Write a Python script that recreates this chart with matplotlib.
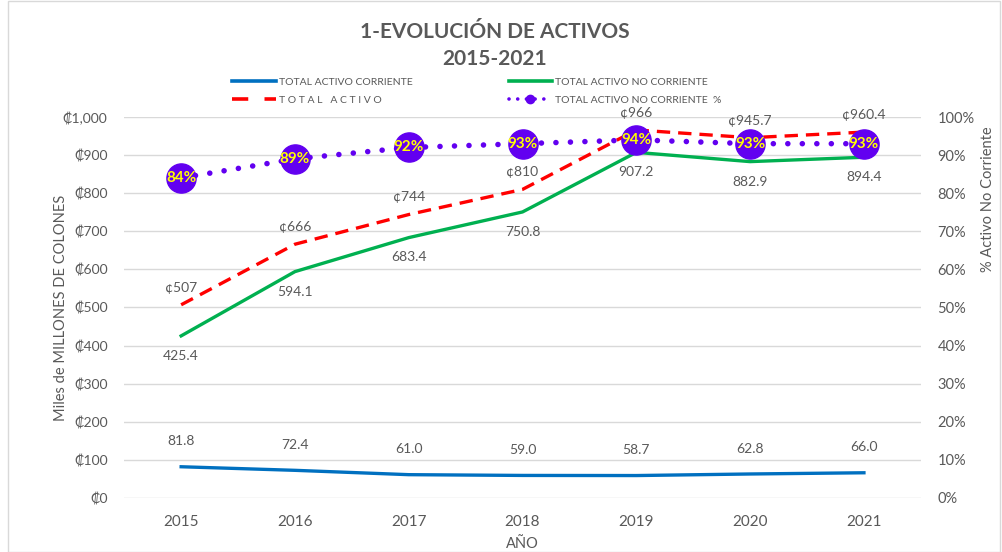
import matplotlib
matplotlib.use("Agg")
import matplotlib.pyplot as plt
from matplotlib.lines import Line2D
from matplotlib.patches import Rectangle
from matplotlib.ticker import FuncFormatter, MultipleLocator

plt.rcParams['font.family'] = ['Lato', 'DejaVu Sans']

years = ['2015', '2016', '2017', '2018', '2019', '2020', '2021']
corriente = [81.8, 72.4, 61.0, 59.0, 58.7, 62.8, 66.0]
no_corriente = [425.4, 594.1, 683.4, 750.8, 907.2, 882.9, 894.4]
total = [507, 666, 744, 810, 966, 945.7, 960.4]
total_lbl = ['¢507', '¢666', '¢744', '¢810', '¢966', '¢945.7', '¢960.4']
pct = [0.84, 0.89, 0.92, 0.93, 0.94, 0.93, 0.93]

GRAY = '#595959'
BLUE = '#0070C0'
GREEN = '#00B050'
RED = '#FF0000'
PURPLE = '#6200F0'

fig = plt.figure(figsize=(10.02, 5.52), dpi=100)
ax = fig.add_axes([0.124, 0.098, 0.795, 0.690])
x = range(len(years))

ax.plot(x, corriente, color=BLUE, lw=2.4, zorder=3)
ax.plot(x, no_corriente, color=GREEN, lw=2.4, zorder=3)
ax.plot(x, total, color=RED, lw=2.4, ls=(0, (4, 2.4)), zorder=3)

for i in x:
    ax.annotate(f'{corriente[i]:.1f}', (i, corriente[i]), xytext=(0, 14),
                textcoords='offset points', ha='center', va='bottom',
                fontsize=10, color=GRAY)
    ax.annotate(f'{no_corriente[i]:.1f}', (i, no_corriente[i]), xytext=(0, -10),
                textcoords='offset points', ha='center', va='top',
                fontsize=10, color=GRAY)
    ax.annotate(total_lbl[i], (i, total[i]), xytext=(0, 8),
                textcoords='offset points', ha='center', va='bottom',
                fontsize=10, color=GRAY)

ax.set_xlim(-0.5, len(years) - 0.5)
ax.set_ylim(0, 1000)
ax.yaxis.set_major_locator(MultipleLocator(100))
ax.yaxis.set_major_formatter(FuncFormatter(lambda v, p: f'₡{v:,.0f}'))
ax.set_xticks(list(x))
ax.set_xticklabels(years)
ax.grid(axis='y', color='#D9D9D9', lw=1)
ax.set_axisbelow(True)
for s in ax.spines.values():
    s.set_visible(False)
ax.tick_params(axis='both', length=0, colors=GRAY, labelsize=10)
ax.tick_params(axis='x', pad=12, labelsize=11)
ax.tick_params(axis='y', pad=12)
ax.set_xlabel('AÑO', color=GRAY, fontsize=10.5, labelpad=6)
ax.set_ylabel('Miles de MILLONES DE COLONES', color=GRAY, fontsize=10.5)
ax.yaxis.set_label_coords(-0.07, 0.5)

# percentage of non-current assets on the secondary axis
ax2 = ax.twinx()
ax2.plot(x, pct, color=PURPLE, lw=4, ls=(0, (0.01, 2.6)),
         dash_capstyle='round', marker='o', markersize=21, zorder=4)
for i in x:
    ax2.text(i, pct[i], f'{pct[i]:.0%}', ha='center', va='center',
             fontsize=11, fontweight='bold', color='#FFFF00', zorder=5)
ax2.set_ylim(0, 1)
ax2.yaxis.set_major_locator(MultipleLocator(0.1))
ax2.yaxis.set_major_formatter(FuncFormatter(lambda v, p: f'{v:.0%}'))
for s in ax2.spines.values():
    s.set_visible(False)
ax2.tick_params(axis='y', length=0, colors=GRAY, labelsize=10.5, pad=12)
ax2.set_ylabel('% Activo No Corriente', color=GRAY, fontsize=10.5)
ax2.yaxis.set_label_coords(1.076, 0.785)

fig.text(0.494, 0.942, '1-EVOLUCIÓN DE ACTIVOS', ha='center', va='center',
         fontsize=15, fontweight='bold', color=GRAY)
fig.text(0.494, 0.893, '2015-2021', ha='center', va='center',
         fontsize=15, fontweight='bold', color=GRAY)

handles = [
    Line2D([], [], color=BLUE, lw=2.6),
    Line2D([], [], color=RED, lw=2.6, ls=(0, (4.5, 4.5))),
    Line2D([], [], color=GREEN, lw=2.6),
    Line2D([], [], color=PURPLE, lw=2.6, ls=(0, (0.01, 2.4)),
           dash_capstyle='round', marker='o', markersize=6),
]
labels = ['TOTAL ACTIVO CORRIENTE', 'T O T A L   A C T I V O',
          'TOTAL ACTIVO NO CORRIENTE', 'TOTAL ACTIVO NO CORRIENTE  %']
fig.legend(handles, labels, ncol=2, loc='center', bbox_to_anchor=(0.476, 0.835),
           frameon=False, fontsize=7.5, labelcolor=GRAY, handlelength=4.2,
           handletextpad=0.3, columnspacing=9.2, labelspacing=0.85)

fig.patches.append(Rectangle((0.008, 0.0), 0.99, 0.999, transform=fig.transFigure,
                             fill=False, ec='#D9D9D9', lw=1))

fig.savefig('out.png', dpi=100)
